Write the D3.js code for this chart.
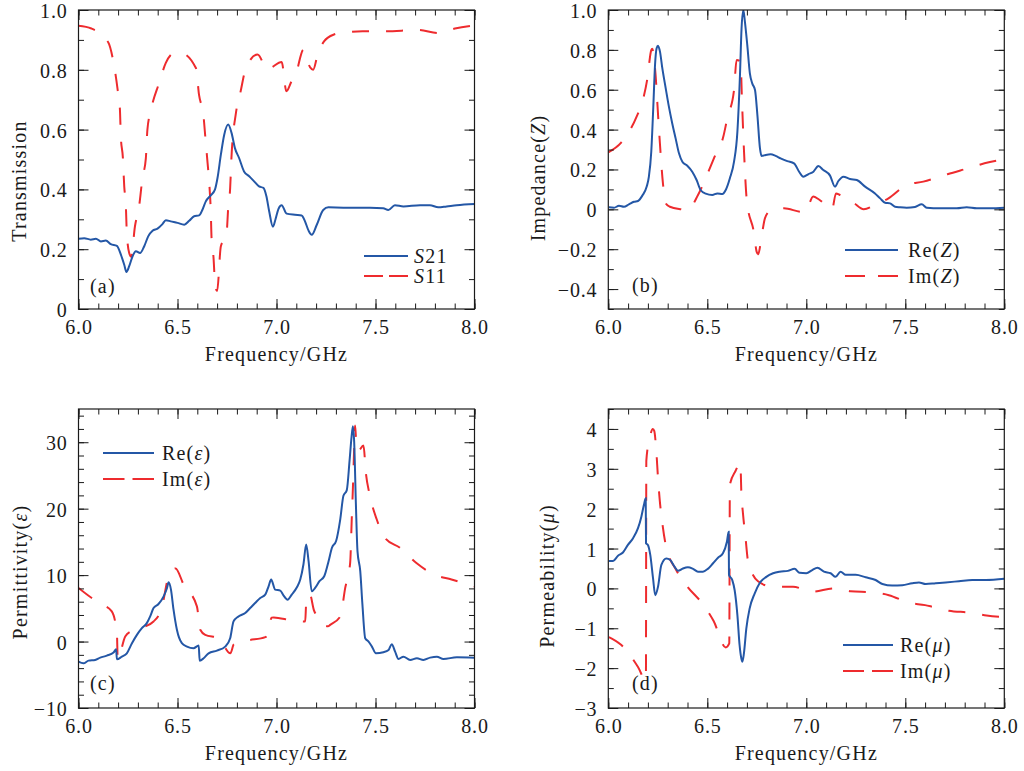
<!DOCTYPE html>
<html>
<head>
<meta charset="utf-8">
<script src="https://cdn.jsdelivr.net/npm/d3@7"></script>
<style>
body { margin: 0; background: #fff; }
svg text { font-family: "Liberation Serif", "DejaVu Serif", serif; fill: #1a1a1a; }
</style>
</head>
<body>
<div id="chart"></div>
<script>
// frequency (GHz) / value pairs
var s21 = [[6.000,0.235],[6.029,0.237],[6.062,0.232],[6.088,0.235],[6.113,0.226],[6.138,0.229],[6.163,0.217],[6.194,0.211],[6.214,0.182],[6.231,0.148],[6.242,0.124],[6.256,0.143],[6.273,0.176],[6.290,0.193],[6.311,0.187],[6.332,0.210],[6.352,0.243],[6.374,0.262],[6.399,0.269],[6.424,0.284],[6.441,0.297],[6.466,0.293],[6.500,0.288],[6.534,0.282],[6.559,0.295],[6.584,0.310],[6.609,0.313],[6.626,0.332],[6.643,0.360],[6.668,0.380],[6.689,0.399],[6.702,0.438],[6.719,0.516],[6.736,0.583],[6.756,0.617],[6.773,0.589],[6.790,0.538],[6.811,0.505],[6.836,0.460],[6.862,0.444],[6.887,0.427],[6.912,0.410],[6.934,0.405],[6.949,0.377],[6.963,0.327],[6.982,0.275],[6.995,0.300],[7.010,0.335],[7.026,0.347],[7.051,0.319],[7.093,0.315],[7.127,0.313],[7.144,0.293],[7.162,0.262],[7.178,0.248],[7.203,0.281],[7.236,0.331],[7.262,0.340],[7.338,0.339],[7.472,0.339],[7.539,0.337],[7.565,0.331],[7.598,0.347],[7.641,0.343],[7.725,0.347],[7.775,0.347],[7.817,0.340],[7.859,0.343],[7.910,0.347],[8.000,0.351]];
var s11 = [[6.000,0.947],[6.065,0.938],[6.150,0.892],[6.175,0.831],[6.197,0.737],[6.209,0.670],[6.214,0.574],[6.224,0.507],[6.231,0.410],[6.239,0.349],[6.244,0.254],[6.256,0.187],[6.266,0.175],[6.285,0.276],[6.306,0.343],[6.323,0.438],[6.340,0.503],[6.348,0.600],[6.365,0.663],[6.407,0.756],[6.441,0.823],[6.480,0.855],[6.517,0.856],[6.593,0.806],[6.609,0.715],[6.631,0.648],[6.643,0.555],[6.652,0.488],[6.663,0.394],[6.668,0.329],[6.672,0.237],[6.682,0.171],[6.690,0.081],[6.700,0.060],[6.719,0.210],[6.747,0.245],[6.756,0.338],[6.766,0.405],[6.772,0.500],[6.795,0.655],[6.817,0.722],[6.845,0.804],[6.904,0.851],[6.955,0.800],[6.976,0.808],[7.026,0.826],[7.050,0.728],[7.075,0.760],[7.099,0.789],[7.136,0.867],[7.170,0.808],[7.185,0.800],[7.208,0.851],[7.240,0.895],[7.290,0.918],[7.346,0.925],[7.435,0.929],[7.548,0.929],[7.716,0.933],[7.817,0.923],[7.901,0.938],[8.000,0.948]];

var reZ = [[6.003,0.010],[6.029,0.008],[6.054,0.018],[6.079,0.013],[6.104,0.025],[6.130,0.038],[6.150,0.042],[6.172,0.069],[6.194,0.114],[6.205,0.164],[6.217,0.289],[6.227,0.507],[6.236,0.724],[6.244,0.808],[6.251,0.821],[6.261,0.791],[6.273,0.707],[6.290,0.607],[6.306,0.515],[6.323,0.431],[6.340,0.356],[6.357,0.281],[6.374,0.239],[6.399,0.219],[6.424,0.189],[6.446,0.147],[6.466,0.097],[6.492,0.079],[6.525,0.072],[6.551,0.080],[6.576,0.077],[6.593,0.097],[6.614,0.156],[6.635,0.239],[6.652,0.390],[6.665,0.674],[6.673,0.908],[6.682,1.000],[6.690,0.941],[6.702,0.824],[6.715,0.682],[6.727,0.632],[6.741,0.599],[6.753,0.473],[6.766,0.306],[6.774,0.268],[6.795,0.273],[6.820,0.276],[6.845,0.268],[6.870,0.256],[6.904,0.242],[6.938,0.231],[6.963,0.190],[6.985,0.164],[7.011,0.177],[7.036,0.189],[7.061,0.217],[7.086,0.197],[7.120,0.169],[7.145,0.114],[7.162,0.142],[7.187,0.164],[7.221,0.152],[7.255,0.147],[7.297,0.114],[7.347,0.080],[7.373,0.055],[7.398,0.033],[7.423,0.030],[7.448,0.013],[7.474,0.010],[7.507,0.008],[7.549,0.012],[7.583,0.025],[7.608,0.008],[7.676,0.005],[7.760,0.005],[7.810,0.010],[7.861,0.005],[7.928,0.005],[8.000,0.008]];
var imZ = [[6.000,0.286],[6.066,0.336],[6.143,0.465],[6.177,0.557],[6.197,0.654],[6.217,0.799],[6.222,0.805],[6.236,0.707],[6.256,0.400],[6.276,0.130],[6.290,0.030],[6.311,0.013],[6.369,0.000],[6.400,-0.004],[6.453,0.072],[6.495,0.164],[6.537,0.264],[6.581,0.365],[6.601,0.457],[6.635,0.599],[6.648,0.749],[6.668,0.741],[6.675,0.550],[6.685,0.300],[6.700,0.040],[6.736,-0.120],[6.749,-0.212],[6.757,-0.225],[6.773,-0.145],[6.791,-0.045],[6.820,-0.005],[6.887,0.005],[6.968,-0.012],[6.995,-0.015],[7.035,0.065],[7.049,0.059],[7.117,0.008],[7.130,0.000],[7.150,0.080],[7.170,0.072],[7.236,0.035],[7.290,0.000],[7.347,0.022],[7.415,0.055],[7.507,0.122],[7.591,0.139],[7.638,0.152],[7.713,0.176],[7.827,0.209],[7.900,0.231],[8.000,0.252]];

var reEps = [[6.000,-3.03],[6.025,-3.28],[6.051,-2.87],[6.084,-2.77],[6.110,-2.42],[6.143,-2.12],[6.177,-1.66],[6.190,-1.16],[6.194,-2.67],[6.219,-2.27],[6.244,-1.77],[6.270,-0.25],[6.295,1.01],[6.320,2.02],[6.345,2.77],[6.362,3.78],[6.379,5.04],[6.404,5.65],[6.430,6.81],[6.447,8.07],[6.455,8.93],[6.467,7.82],[6.480,4.79],[6.497,1.77],[6.522,-0.25],[6.548,-0.76],[6.581,-1.01],[6.607,-0.60],[6.612,-2.87],[6.632,-2.52],[6.657,-1.77],[6.699,-1.36],[6.741,-0.76],[6.766,0.50],[6.783,3.03],[6.808,3.78],[6.842,4.29],[6.867,5.04],[6.892,5.80],[6.918,6.56],[6.943,7.06],[6.960,8.32],[6.973,9.33],[6.993,7.82],[7.019,7.67],[7.035,6.96],[7.056,6.30],[7.077,7.06],[7.103,8.17],[7.120,9.33],[7.136,11.6],[7.150,14.62],[7.162,12.1],[7.178,7.56],[7.195,8.07],[7.217,9.08],[7.241,9.83],[7.263,12.1],[7.280,14.12],[7.301,15.13],[7.322,18.4],[7.338,21.94],[7.355,22.79],[7.369,27.23],[7.379,30.76],[7.386,32.4],[7.392,30.26],[7.401,20.68],[7.409,13.6],[7.423,10.59],[7.434,5.55],[7.448,0.5],[7.465,0.0],[7.482,-0.76],[7.502,-1.77],[7.540,-1.61],[7.566,-1.26],[7.582,-0.40],[7.599,-1.51],[7.616,-2.62],[7.641,-2.27],[7.675,-2.77],[7.709,-2.52],[7.742,-2.77],[7.776,-2.42],[7.810,-2.27],[7.843,-2.62],[7.911,-2.37],[8.000,-2.42]];
var imEps = [[6.000,8.07],[6.067,6.56],[6.120,5.60],[6.168,4.54],[6.194,1.26],[6.198,-2.60],[6.236,0.76],[6.270,1.60],[6.312,2.02],[6.379,3.03],[6.420,5.00],[6.455,9.80],[6.490,11.0],[6.531,8.57],[6.598,5.30],[6.615,1.77],[6.640,1.00],[6.708,0.50],[6.767,-1.77],[6.785,-0.40],[6.851,0.15],[6.944,0.66],[6.960,1.50],[6.975,3.60],[6.986,3.63],[7.078,3.18],[7.145,3.03],[7.150,5.80],[7.168,7.16],[7.190,4.64],[7.260,2.30],[7.271,2.52],[7.322,3.78],[7.347,8.07],[7.372,11.85],[7.380,18.4],[7.386,23.2],[7.393,29.75],[7.397,32.5],[7.405,29.0],[7.413,28.7],[7.439,29.5],[7.452,25.2],[7.469,22.3],[7.506,18.4],[7.548,15.6],[7.624,14.1],[7.705,11.85],[7.795,10.1],[7.884,9.33],[8.000,8.30]];

var reMu = [[6.003,0.69],[6.024,0.69],[6.049,0.82],[6.074,0.90],[6.099,1.09],[6.125,1.26],[6.150,1.51],[6.167,1.80],[6.180,2.10],[6.189,2.26],[6.1905,1.13],[6.200,1.09],[6.212,0.84],[6.226,0.25],[6.237,-0.17],[6.251,0.04],[6.268,0.59],[6.293,0.75],[6.313,0.71],[6.335,0.54],[6.352,0.44],[6.377,0.50],[6.402,0.53],[6.428,0.49],[6.453,0.42],[6.478,0.42],[6.503,0.49],[6.529,0.63],[6.554,0.77],[6.579,0.88],[6.599,1.17],[6.608,1.42],[6.6095,0.34],[6.626,0.21],[6.638,-0.04],[6.652,-0.67],[6.663,-1.42],[6.672,-1.76],[6.677,-1.84],[6.685,-1.63],[6.697,-1.01],[6.714,-0.50],[6.739,-0.13],[6.764,0.13],[6.798,0.29],[6.832,0.38],[6.865,0.42],[6.907,0.44],[6.941,0.49],[6.966,0.39],[7.000,0.38],[7.030,0.46],[7.056,0.52],[7.089,0.42],[7.123,0.38],[7.148,0.29],[7.173,0.42],[7.199,0.34],[7.249,0.34],[7.300,0.28],[7.350,0.21],[7.384,0.11],[7.434,0.07],[7.485,0.08],[7.535,0.13],[7.569,0.15],[7.603,0.11],[7.653,0.13],[7.704,0.15],[7.771,0.18],[7.838,0.21],[7.906,0.21],[8.000,0.24]];
var imMu = [[6.003,-1.22],[6.066,-1.42],[6.150,-1.97],[6.190,-2.31],[6.192,3.20],[6.209,3.77],[6.225,4.00],[6.232,3.95],[6.242,3.48],[6.251,2.77],[6.259,2.26],[6.273,1.63],[6.290,1.09],[6.343,0.46],[6.394,0.08],[6.481,-0.42],[6.532,-0.82],[6.593,-1.48],[6.611,-1.38],[6.614,2.60],[6.643,2.95],[6.667,3.15],[6.672,2.39],[6.680,1.89],[6.694,1.22],[6.705,0.71],[6.756,0.18],[6.832,0.04],[6.933,0.04],[7.030,-0.08],[7.140,0.00],[7.224,-0.07],[7.333,-0.10],[7.417,-0.17],[7.520,-0.36],[7.600,-0.42],[7.636,-0.46],[7.720,-0.56],[7.830,-0.61],[7.910,-0.68],[8.000,-0.72]];

var xTicks = [6.0, 6.5, 7.0, 7.5, 8.0];

var blue = "#2457a6", red = "#ee2b2e";
var w = 1024, h = 771;

var svg = d3.select("#chart").append("svg")
    .attr("width", w)
    .attr("height", h);

// one entry per panel; ylabel given as [text, italic] pieces
var panels = [
  { id: "a", l: 78.5, r: 474.5, t: 10, b: 309, yDom: [0, 1], yMajor: 0.2, yMinor: 0.1, dec: 1,
    ylabel: [["Transmission", false]], ylx: 19, yly: 181,
    series: [[s21, blue, false], [s11, red, true]],
    names: [[["S", true], ["21", false]], [["S", true], ["11", false]]],
    leg: { x1: 364, x2: 408, y1: 256, y2: 276, tx: 414, gap: 6 },
    letter: [90, 293] },
  { id: "b", l: 608.3, r: 1004.3, t: 10, b: 309, yDom: [-0.5, 1], yMajor: 0.2, yMinor: 0.1, dec: 1,
    ylabel: [["Impedance(", false], ["Z", true], [")", false]], ylx: 538, yly: 178,
    series: [[reZ, blue, false], [imZ, red, true]],
    names: [[["Re(", false], ["Z", true], [")", false]], [["Im(", false], ["Z", true], [")", false]]],
    leg: { x1: 845, x2: 898, y1: 250, y2: 276, tx: 908, gap: 13 },
    letter: [632, 292] },
  { id: "c", l: 78.5, r: 474.5, t: 409, b: 708, yDom: [-10, 35], yMajor: 10, yMinor: 2, dec: 0,
    ylabel: [["Permittivity(", false], ["ε", true], [")", false]], ylx: 20, yly: 572,
    series: [[reEps, blue, false], [imEps, red, true]],
    names: [[["Re(", false], ["ε", true], [")", false]], [["Im(", false], ["ε", true], [")", false]]],
    leg: { x1: 103, x2: 154, y1: 453, y2: 479, tx: 162, gap: 8 },
    letter: [90, 690] },
  { id: "d", l: 608.3, r: 1004.3, t: 409, b: 708, yDom: [-3, 4.5], yMajor: 1, yMinor: 0.5, dec: 0,
    ylabel: [["Permeability(", false], ["μ", true], [")", false]], ylx: 547, yly: 576,
    series: [[reMu, blue, false], [imMu, red, true]],
    names: [[["Re(", false], ["μ", true], [")", false]], [["Im(", false], ["μ", true], [")", false]]],
    leg: { x1: 843, x2: 893, y1: 645, y2: 671, tx: 900, gap: 8 },
    letter: [632, 690] }
];

var fontSize = 20;
var spacing = 1.2;

function steps(a, b, s) {
  var out = [];
  for (var v = a; v <= b + 1e-9; v += s) out.push(Math.round(v * 1000) / 1000);
  return out;
}

function addPieces(text, pieces) {
  pieces.forEach(function(p) {
    text.append("tspan").text(p[0]).attr("font-style", p[1] ? "italic" : null);
  });
}

panels.forEach(function(p) {
  var x = d3.scaleLinear().domain([6, 8]).range([p.l, p.r]);
  var y = d3.scaleLinear().domain(p.yDom).range([p.b, p.t]);
  var g = svg.append("g");

  var yMaj = steps(Math.ceil(p.yDom[0] / p.yMajor) * p.yMajor, p.yDom[1], p.yMajor);
  var yMin = steps(Math.ceil(p.yDom[0] / p.yMinor) * p.yMinor, p.yDom[1], p.yMinor);
  var xMin = steps(6, 8, 0.1);

  var yFormat = function(v) {
    if (Math.abs(v) < 1e-9) return "0";
    return v.toFixed(p.dec).replace("-", "\u2212");
  };

  // curves, clipped to the plot box
  g.append("clipPath").attr("id", "clip" + p.id)
    .append("rect")
    .attr("x", p.l).attr("y", p.t)
    .attr("width", p.r - p.l).attr("height", p.b - p.t);

  var line = d3.line()
    .x(function(d) { return x(d[0]); })
    .y(function(d) { return y(d[1]); })
    .curve(d3.curveMonotoneX);

  // red dashed drawn first, blue on top
  p.series.slice().reverse().forEach(function(s) {
    g.append("path")
      .datum(s[0])
      .attr("clip-path", "url(#clip" + p.id + ")")
      .attr("d", line)
      .attr("fill", "none")
      .attr("stroke", s[1])
      .attr("stroke-width", 2)
      .attr("stroke-dasharray", s[2] ? "17,17" : null);
  });

  // ticks pointing inward on all four sides
  function tickAxis(axis, vals, size, tr, fmt) {
    var a = axis.tickValues(vals).tickSizeInner(-size).tickSizeOuter(0);
    a.tickFormat(fmt || "");
    var ag = g.append("g").attr("transform", tr).call(a);
    ag.select(".domain").remove();
    ag.selectAll("line").attr("stroke", "#1a1a1a").attr("stroke-width", 1);
    return ag;
  }
  tickAxis(d3.axisBottom(x), xMin, 5.5, "translate(0," + p.b + ")");
  tickAxis(d3.axisTop(x), xMin, 5.5, "translate(0," + p.t + ")");
  tickAxis(d3.axisLeft(y), yMin, 5.5, "translate(" + p.l + ",0)");
  tickAxis(d3.axisRight(y), yMin, 5.5, "translate(" + p.r + ",0)");
  var xb = tickAxis(d3.axisBottom(x), xTicks, 10, "translate(0," + p.b + ")", d3.format(".1f"));
  tickAxis(d3.axisTop(x), xTicks, 10, "translate(0," + p.t + ")");
  var yl = tickAxis(d3.axisLeft(y), yMaj, 10, "translate(" + p.l + ",0)", yFormat);
  tickAxis(d3.axisRight(y), yMaj, 10, "translate(" + p.r + ",0)");

  xb.selectAll("text")
    .attr("y", 25).attr("dy", null)
    .attr("font-size", fontSize).attr("letter-spacing", 0.8)
    .attr("font-family", "Liberation Serif").attr("fill", "#1a1a1a");
  yl.selectAll("text")
    .attr("x", -11).attr("dy", 7.5)
    .attr("font-size", fontSize).attr("letter-spacing", 0.8)
    .attr("font-family", "Liberation Serif").attr("fill", "#1a1a1a");

  // frame
  g.append("rect")
    .attr("x", p.l).attr("y", p.t)
    .attr("width", p.r - p.l).attr("height", p.b - p.t)
    .attr("fill", "none").attr("stroke", "#1a1a1a").attr("stroke-width", 1.2);

  // axis labels
  g.append("text")
    .attr("x", (p.l + p.r) / 2).attr("y", p.b + 52)
    .attr("text-anchor", "middle")
    .attr("font-size", fontSize).attr("letter-spacing", spacing)
    .text("Frequency/GHz");
  var yt = g.append("text")
    .attr("transform", "translate(" + p.ylx + "," + p.yly + ") rotate(-90)")
    .attr("text-anchor", "middle")
    .attr("dy", "0.35em")
    .attr("font-size", fontSize).attr("letter-spacing", spacing);
  addPieces(yt, p.ylabel);

  // panel letter
  g.append("text")
    .attr("x", p.letter[0]).attr("y", p.letter[1])
    .attr("font-size", fontSize).attr("letter-spacing", spacing)
    .text("(" + p.id + ")");

  // legend
  var L = p.leg;
  [L.y1, L.y2].forEach(function(ly, i) {
    var s = p.series[i];
    var len = L.x2 - L.x1;
    g.append("line")
      .attr("x1", L.x1).attr("x2", L.x2)
      .attr("y1", ly).attr("y2", ly)
      .attr("stroke", s[1]).attr("stroke-width", 2)
      .attr("stroke-dasharray", s[2] ? ((len - L.gap) / 2) + "," + L.gap : null);
    var lt = g.append("text")
      .attr("x", L.tx).attr("y", ly + 6.5)
      .attr("font-size", fontSize).attr("letter-spacing", spacing);
    addPieces(lt, p.names[i]);
  });
});
</script>
</body>
</html>
